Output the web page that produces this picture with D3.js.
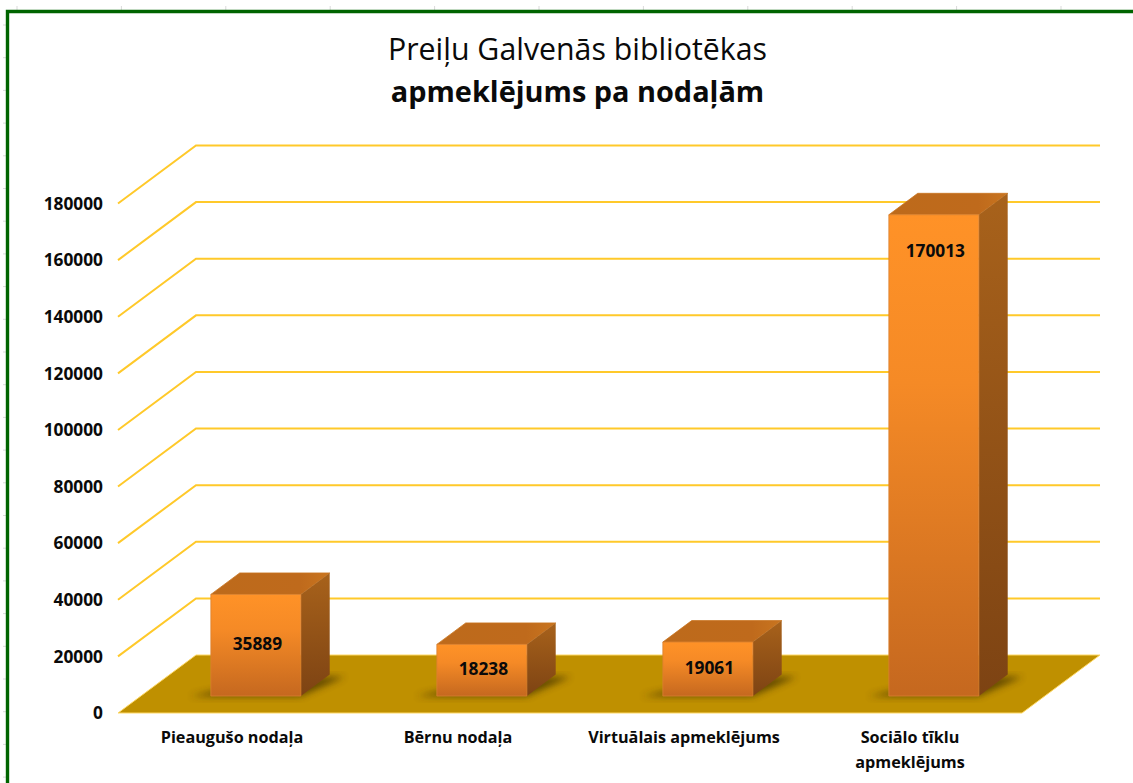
<!DOCTYPE html>
<html><head><meta charset="utf-8">
<script src="https://cdn.jsdelivr.net/npm/d3@7/dist/d3.min.js"></script>
<style>html,body{margin:0;padding:0;background:#fff;overflow:hidden}svg{display:block}
text{font-family:"Open Sans","Noto Sans",sans-serif;fill:#0a0a0a}</style></head><body>
<svg id="c" width="1133" height="783"></svg>
<script>
const categories = ["Pieaugušo nodaļa", "Bērnu nodaļa", "Virtuālais apmeklējums", "Sociālo tīklu|apmeklējums"];
const values = [35889, 18238, 19061, 170013];
const yTicks = [0, 20000, 40000, 60000, 80000, 100000, 120000, 140000, 160000, 180000];
const titleLine1 = "Preiļu Galvenās bibliotēkas";
const titleLine2 = "apmeklējums pa nodaļām";

const svg = d3.select("#c");
const defs = svg.append("defs");
const W = 1133, H = 783;
const x = d3.scaleBand().domain(categories).range([118, 1022]);
const y = d3.scaleLinear().domain([0, 180000]).range([713, 203.5]);
// Oblique depth: z in 0..1 runs from the front of the floor to the back
const DX = 78, DY = -58;
const P = (px, v, z) => [px + z * DX, y(v) + z * DY];
const poly = pts => pts.map(p => p.join(",")).join(" ");

// Sheet tick marks behind the frame
svg.append("g").selectAll("line").data(d3.range(17, W, 104.4)).join("line")
  .attr("x1", d => d).attr("x2", d => d).attr("y1", 6).attr("y2", 10).attr("stroke", "#d9d9d9");
svg.append("g").selectAll("line").data(d3.range(25, H, 32.7)).join("line")
  .attr("x1", 3).attr("x2", 6).attr("y1", d => d).attr("y2", d => d).attr("stroke", "#d9d9d9");

// Frame
svg.append("path").attr("d", `M7.5,${H} V11.5 H${W}`).attr("fill", "none")
  .attr("stroke", "#006400").attr("stroke-width", 3.4);

// Gradients
const g1 = defs.append("linearGradient").attr("id", "front").attr("x1", 0).attr("x2", 0).attr("y1", 0).attr("y2", 1);
g1.append("stop").attr("offset", 0).attr("stop-color", "#ff9227");
g1.append("stop").attr("offset", 0.35).attr("stop-color", "#f58a26");
g1.append("stop").attr("offset", 1).attr("stop-color", "#c5681f");
const g2 = defs.append("linearGradient").attr("id", "side").attr("x1", 0).attr("x2", 0).attr("y1", 0).attr("y2", 1);
g2.append("stop").attr("offset", 0).attr("stop-color", "#a8621b");
g2.append("stop").attr("offset", 1).attr("stop-color", "#7d4313");
const g3 = defs.append("linearGradient").attr("id", "top").attr("x1", 0).attr("x2", 1).attr("y1", 0).attr("y2", 0);
g3.append("stop").attr("offset", 0).attr("stop-color", "#bd6a1b");
g3.append("stop").attr("offset", 0.75).attr("stop-color", "#bf6a1c");
g3.append("stop").attr("offset", 1).attr("stop-color", "#c9751f");
defs.append("filter").attr("id", "blur").attr("x", "-30%").attr("y", "-30%").attr("width", "160%").attr("height", "160%")
  .append("feGaussianBlur").attr("stdDeviation", 3.5);

// Back wall gridlines and side wall
const grid = svg.append("g");
const gridTicks = yTicks.slice(1);
grid.selectAll("polyline").data(gridTicks).join("polyline")
  .attr("fill", "none").attr("stroke", "#ffc92a").attr("stroke-width", 2)
  .attr("points", d => poly([P(118, d, 0), P(118, d, 1), P(1022, d, 1)]));

// Floor
svg.append("polygon").attr("fill", "#bf9000").attr("stroke", "#ffd966").attr("stroke-width", 1)
  .attr("points", poly([P(118, 0, 0), P(1022, 0, 0), P(1022, 0, 1), P(118, 0, 1)]));

// Bars
const Z0 = 0.293, Z1 = 0.663, BW = 90;
const bars = svg.append("g").selectAll("g").data(values).join("g");
const left = (d, i) => x(categories[i]) + (x.bandwidth() - BW) / 2 + 2;
bars.append("polygon").attr("fill", "#3f2e00").attr("opacity", 0.72).attr("filter", "url(#blur)")
  .attr("points", (d, i) => { const l = left(d, i);
    return poly([P(l - 20, 0, Z0 - 0.005), P(l + BW, 0, Z0 - 0.005), P(l + BW + 18, 0, Z1 - 0.04), P(l + BW, 0, Z1 - 0.04), P(l + 10, 0, Z0 + 0.16)]); });
bars.append("polygon").attr("fill", "url(#top)").attr("stroke", "#c9751f").attr("stroke-width", 0.8).attr("stroke-linejoin", "round")
  .attr("points", (d, i) => { const l = left(d, i);
    return poly([P(l, d, Z0), P(l + BW, d, Z0), P(l + BW, d, Z1), P(l, d, Z1)]); });
bars.append("polygon").attr("fill", "url(#side)")
  .attr("points", (d, i) => { const l = left(d, i);
    return poly([P(l + BW, 0, Z0), P(l + BW, 0, Z1), P(l + BW, d, Z1), P(l + BW, d, Z0)]); });
bars.append("polygon").attr("fill", "url(#front)").attr("stroke", "#d98130").attr("stroke-width", 0.8).attr("stroke-linejoin", "round")
  .attr("points", (d, i) => { const l = left(d, i);
    return poly([P(l, 0, Z0), P(l + BW, 0, Z0), P(l + BW, d, Z0), P(l, d, Z0)]); });

// Data labels
const labelY = v => { const top = P(0, v, Z0)[1], bot = P(0, 0, Z0)[1]; return v > 100000 ? top + 42 : (top + bot) / 2 + 5; };
bars.append("text").attr("text-anchor", "middle").attr("font-size", 17.3).attr("font-weight", 700)
  .attr("x", (d, i) => P(left(d, i) + BW / 2, d, Z0)[0] + 1.5).attr("y", labelY).text(d => d);

// Y axis via d3.axisLeft
const yAxis = svg.append("g").attr("transform", "translate(103,0)")
  .call(d3.axisLeft(y).tickValues(yTicks).tickFormat(d3.format("d")).tickSize(0).tickPadding(0));
yAxis.select(".domain").remove();
yAxis.selectAll("text").attr("font-size", 17.3).attr("font-weight", 700).attr("font-family", null)
  .attr("dy", "0.33em");

// Category labels
const cat = svg.append("g").selectAll("text").data(categories).join("text")
  .attr("text-anchor", "middle").attr("font-size", 16.2).attr("font-weight", 700);
cat.each(function (d) {
  d.split("|").forEach((ln, k) => d3.select(this).append("tspan")
    .attr("x", x(d) + x.bandwidth() / 2 + 1).attr("y", 743 + k * 25).text(ln));
});

// Title
svg.append("text").attr("x", 577.5).attr("y", 60).attr("text-anchor", "middle").attr("font-size", 30.3).text(titleLine1);
svg.append("text").attr("x", 577.5).attr("y", 102).attr("text-anchor", "middle").attr("font-size", 28.9).attr("font-weight", 700).text(titleLine2);
</script></body></html>
